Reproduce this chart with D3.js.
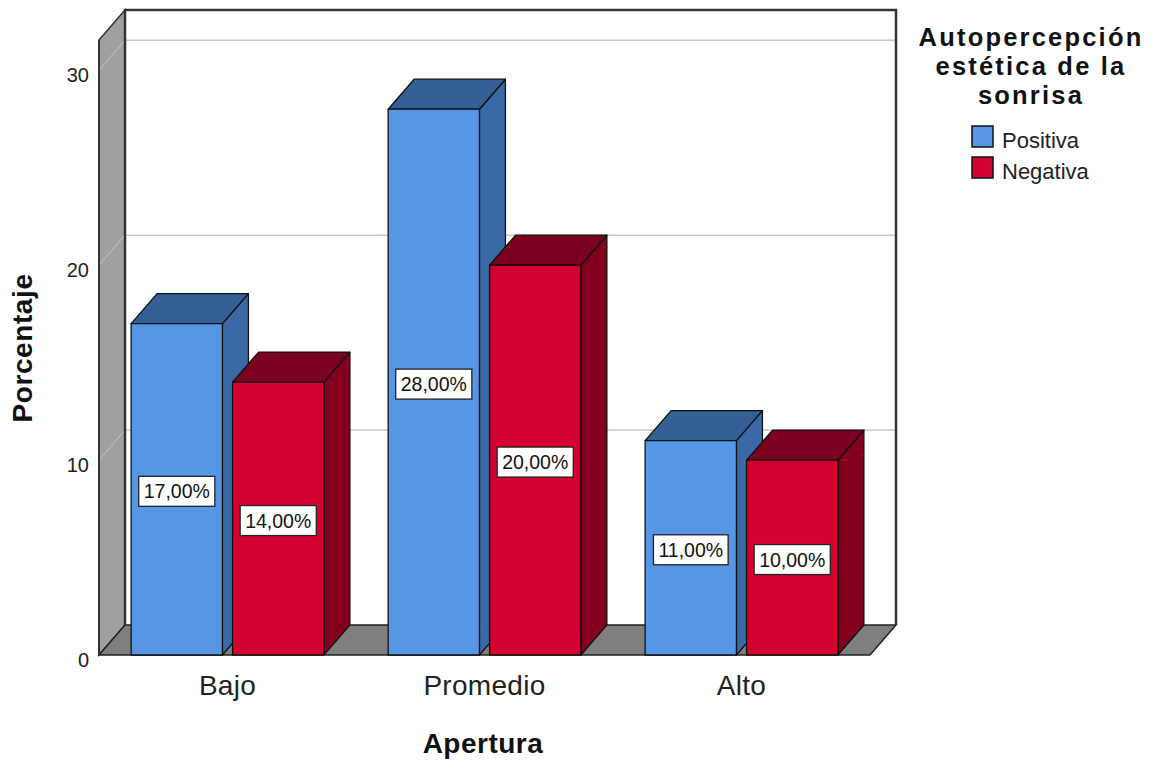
<!DOCTYPE html>
<html>
<head>
<meta charset="utf-8">
<script src="https://cdn.jsdelivr.net/npm/d3@7"></script>
<style>
  html, body { margin: 0; padding: 0; background: #fff; }
  svg { display: block; font-family: "Liberation Sans", Arial, sans-serif; }
</style>
</head>
<body>
<svg id="chart" width="1152" height="760"></svg>
<script>
// Data
const categories = ["Bajo", "Promedio", "Alto"];
const seriesNames = ["Positiva", "Negativa"];
const positiva = [17, 28, 11];
const negativa = [14, 20, 10];
const yTicks = [0, 10, 20, 30];
const legendTitle = ["Autopercepción", "estética de la", "sonrisa"];

const seriesValues = [positiva, negativa];
const palette = [
  { front: "#5596e5", side: "#3a6aa6", top: "#335f94" },
  { front: "#d4002f", side: "#82001e", top: "#7c0020" }
];

const svg = d3.select("#chart");

// Front plane geometry and depth offset
const left = 99, right = 870;
const depthX = 26, depthY = -30;

const y = d3.scaleLinear().domain([0, 31.55]).range([655, 40]);
const x0 = d3.scaleBand().domain(categories).range([left, right]).paddingInner(0.25).paddingOuter(0.125);
const x1 = d3.scaleBand().domain(seriesNames).range([0, x0.bandwidth()]).paddingInner(0.1);

const y0 = y(0), yTop = y(31.55);

// Back wall
svg.append("rect")
  .attr("x", left + depthX).attr("y", yTop + depthY)
  .attr("width", right - left).attr("height", y0 - yTop)
  .attr("fill", "#fff");

// Gridlines on back wall
svg.append("g").selectAll("line").data(yTicks.filter(d => d > 0)).join("line")
  .attr("x1", left + depthX).attr("x2", right + depthX)
  .attr("y1", d => y(d) + depthY).attr("y2", d => y(d) + depthY)
  .attr("stroke", "#c8c8c8").attr("stroke-width", 1.5);

// Left wall
svg.append("path")
  .attr("d", d3.line()([[left, yTop], [left + depthX, yTop + depthY], [left + depthX, y0 + depthY], [left, y0]]) + "Z")
  .attr("fill", "#a0a0a0").attr("stroke", "#333").attr("stroke-width", 1.5);

// Gridlines continuing across the left wall
svg.append("g").selectAll("line").data(yTicks.filter(d => d > 0)).join("line")
  .attr("x1", left).attr("x2", left + depthX)
  .attr("y1", d => y(d)).attr("y2", d => y(d) + depthY)
  .attr("stroke", "#c4c4c4").attr("stroke-width", 1);

// Floor
svg.append("path")
  .attr("d", d3.line()([[left, y0], [left + depthX, y0 + depthY], [right + depthX, y0 + depthY], [right, y0]]) + "Z")
  .attr("fill", "#7f7f7f").attr("stroke", "#222").attr("stroke-width", 1.5);

// Back wall frame
svg.append("path")
  .attr("d", d3.line()([[left + depthX, y0 + depthY], [left + depthX, yTop + depthY], [right + depthX, yTop + depthY], [right + depthX, y0 + depthY]]))
  .attr("fill", "none").attr("stroke", "#333").attr("stroke-width", 2.5);

// Left wall front edge
svg.append("line")
  .attr("x1", left).attr("x2", left).attr("y1", yTop).attr("y2", y0)
  .attr("stroke", "#333").attr("stroke-width", 2);

// Bars (drawn left to right so fronts overlap neighbouring sides)
const bars = [];
categories.forEach((c, i) => {
  seriesNames.forEach((s, j) => {
    bars.push({ cat: c, series: s, si: j, value: seriesValues[j][i] });
  });
});

const barG = svg.append("g");
bars.forEach(b => {
  const bx = x0(b.cat) + x1(b.series);
  const bw = x1.bandwidth();
  const by = y(b.value);
  const col = palette[b.si];
  const g = barG.append("g").attr("stroke", "#111").attr("stroke-width", 1.3).attr("stroke-linejoin", "round");
  // side face
  g.append("path")
    .attr("d", d3.line()([[bx + bw, by], [bx + bw + depthX, by + depthY], [bx + bw + depthX, y0 + depthY], [bx + bw, y0]]) + "Z")
    .attr("fill", col.side);
  // top face
  g.append("path")
    .attr("d", d3.line()([[bx, by], [bx + depthX, by + depthY], [bx + bw + depthX, by + depthY], [bx + bw, by]]) + "Z")
    .attr("fill", col.top);
  // front face
  g.append("rect")
    .attr("x", bx).attr("y", by).attr("width", bw).attr("height", y0 - by)
    .attr("fill", col.front);
});

// Value labels
const fmt = v => d3.format(".2f")(v).replace(".", ",") + "%";
const labelG = svg.append("g");
bars.forEach(b => {
  const cx = x0(b.cat) + x1(b.series) + x1.bandwidth() / 2;
  const cy = y(b.value / 2) + 2;
  const g = labelG.append("g").attr("transform", `translate(${cx},${cy})`);
  const t = g.append("text")
    .attr("text-anchor", "middle").attr("dy", "0.36em")
    .attr("font-size", 19.5).attr("fill", "#111")
    .text(fmt(b.value));
  const w = t.node().getComputedTextLength() + 10;
  g.insert("rect", "text")
    .attr("x", -w / 2).attr("y", -15).attr("width", w).attr("height", 30)
    .attr("fill", "#fff").attr("stroke", "#222").attr("stroke-width", 1.3);
});

// Y tick labels
svg.append("g").selectAll("text").data(yTicks).join("text")
  .attr("x", 89).attr("y", d => y(d) + 5)
  .attr("dy", "0.35em")
  .attr("text-anchor", "end").attr("font-size", 20).attr("fill", "#222")
  .text(d => d);

// Category labels
svg.append("g").selectAll("text").data(categories).join("text")
  .attr("x", d => x0(d) + x0.bandwidth() / 2).attr("y", 695)
  .attr("text-anchor", "middle").attr("font-size", 28).attr("letter-spacing", 0.3).attr("fill", "#222")
  .text(d => d);

// Axis titles
svg.append("text")
  .attr("x", 483).attr("y", 753)
  .attr("text-anchor", "middle").attr("font-size", 28).attr("letter-spacing", 0.5)
  .attr("font-weight", "bold").attr("fill", "#111")
  .text("Apertura");

svg.append("text")
  .attr("transform", "translate(32,348) rotate(-90)")
  .attr("text-anchor", "middle").attr("font-size", 28).attr("letter-spacing", 0.6)
  .attr("font-weight", "bold").attr("fill", "#111")
  .text("Porcentaje");

// Legend
const legend = svg.append("g");
legend.selectAll("text.title").data(legendTitle).join("text")
  .attr("class", "title")
  .attr("x", 1031).attr("y", (d, i) => 46 + i * 29)
  .attr("text-anchor", "middle").attr("font-size", 25.5).attr("letter-spacing", 2.2)
  .attr("font-weight", "bold").attr("fill", "#111")
  .text(d => d);

seriesNames.forEach((s, i) => {
  const ly = 126 + i * 31;
  legend.append("rect")
    .attr("x", 972).attr("y", ly).attr("width", 21).attr("height", 21)
    .attr("fill", palette[i].front).attr("stroke", "#111").attr("stroke-width", 1.5);
  legend.append("text")
    .attr("x", 1002).attr("y", ly + 22)
    .attr("font-size", 22).attr("fill", "#222")
    .text(s);
});
</script>
</body>
</html>
